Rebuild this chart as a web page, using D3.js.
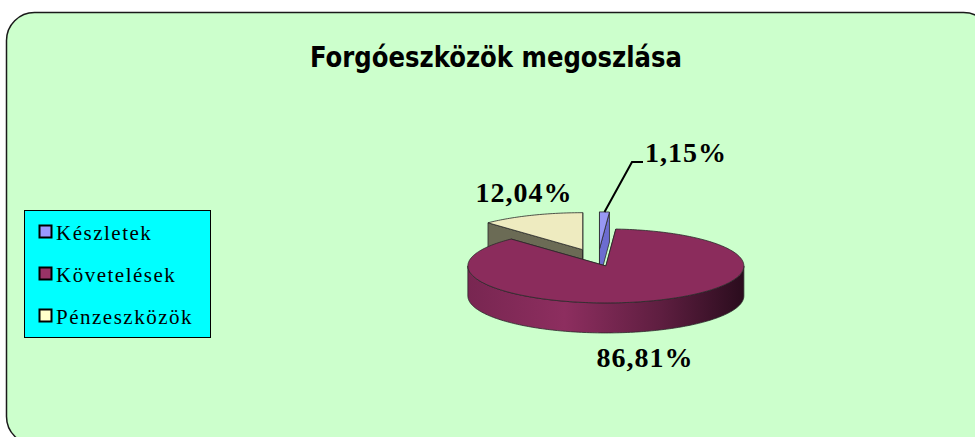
<!DOCTYPE html>
<html><head><meta charset="utf-8">
<script src="https://cdn.jsdelivr.net/npm/d3@7"></script>
<style>html,body{margin:0;padding:0;background:#fff;}svg{display:block;}</style>
</head><body>
<script>
// ---- data ----
const categories = ["Készletek", "Követelések", "Pénzeszközök"];
const values = [1.15, 86.81, 12.04];
const valueLabels = ["1,15%", "86,81%", "12,04%"];
const titleText = "Forgóeszközök megoszlása";

// ---- layout / style ----
const W = 975, H = 437;
const topColors = ["#9898f4", "#8b2c5c", "#eeebc0"];
const sideColors = ["#6c6cd0", "#8b2c5c", "#6b6b55"];
const legendColors = ["#9999ff", "#993366", "#ffffcc"];
const explode = [0.3, 0.17, 0.3];
const cx = 598, cy = 260, rx = 138, ry = 37, depth = 30;

const svg = d3.select("body").append("svg").attr("width", W).attr("height", H);

// frame
svg.append("rect").attr("x", 6.5).attr("y", 12.5).attr("width", 985).attr("height", 432)
  .attr("rx", 28).attr("ry", 28).attr("fill", "#ccffcc").attr("stroke", "#1a1a1a").attr("stroke-width", 1.5);

// title
svg.append("text").attr("x", 496).attr("y", 67).attr("text-anchor", "middle")
  .attr("font-family", "'Comic Sans MS','DejaVu Sans Condensed','DejaVu Sans',sans-serif")
  .attr("font-weight", "bold").attr("font-size", 28)
  .attr("textLength", 372).attr("lengthAdjust", "spacingAndGlyphs")
  .attr("fill", "#000").text(titleText);

// gradient for magenta outer wall
const defs = svg.append("defs");
const grad = defs.append("linearGradient").attr("id", "wallGrad")
  .attr("gradientUnits", "userSpaceOnUse").attr("x1", cx - rx + 8).attr("x2", cx + rx + 8).attr("y1", 0).attr("y2", 0);
[[0, "#782651"], [0.35, "#8d2e5f"], [0.7, "#5e1e40"], [1, "#2a0c1d"]].forEach(([o, c]) =>
  grad.append("stop").attr("offset", o).attr("stop-color", c));

const pie = d3.pie().sort(null).value(d => d).startAngle(0).endAngle(2 * Math.PI);
const arcs = pie(values);

const line = d3.line();
function pt(ox, oy, a, z) { return [ox + rx * Math.sin(a), oy - ry * Math.cos(a) + z]; }
function arcPts(ox, oy, a0, a1, z) {
  const n = Math.max(2, Math.ceil(Math.abs(a1 - a0) / 0.02));
  return d3.range(n + 1).map(i => pt(ox, oy, a0 + (a1 - a0) * i / n, z));
}

const slices = arcs.map((a, i) => {
  const mid = (a.startAngle + a.endAngle) / 2;
  const ox = cx + explode[i] * rx * Math.sin(mid);
  const oy = cy - explode[i] * ry * Math.cos(mid);
  return { a, i, ox, oy, mid };
});

// painter's order: back slices first
const order = slices.slice().sort((p, q) => p.oy - q.oy);
const g = svg.append("g");
order.forEach(s => {
  const { a, i, ox, oy } = s;
  const stroke = "#2a2a2a";
  [a.startAngle, a.endAngle].forEach(ang => {
    const e = pt(ox, oy, ang, 0), eb = pt(ox, oy, ang, depth);
    g.append("path").attr("d", line([[ox, oy], e, eb, [ox, oy + depth]]) + "Z")
      .attr("fill", sideColors[i]).attr("stroke", stroke).attr("stroke-width", 0.8);
  });
  const s0 = Math.max(a.startAngle, Math.PI / 2), s1 = Math.min(a.endAngle, 3 * Math.PI / 2);
  if (s1 > s0) {
    const top = arcPts(ox, oy, s0, s1, 0), bot = arcPts(ox, oy, s1, s0, depth);
    g.append("path").attr("d", line(top.concat(bot)) + "Z")
      .attr("fill", i === 1 ? "url(#wallGrad)" : sideColors[i]).attr("stroke", stroke).attr("stroke-width", 0.8);
  }
  const tp = [[ox, oy]].concat(arcPts(ox, oy, a.startAngle, a.endAngle, 0));
  g.append("path").attr("d", line(tp) + "Z")
    .attr("fill", topColors[i]).attr("stroke", stroke).attr("stroke-width", 0.8);
});

// value labels
const labelFont = "'Liberation Serif','Times New Roman',serif";
const labelPos = [[645, 162, "start"], [645, 367, "middle"], [524, 202, "middle"]];
valueLabels.forEach((t, i) => {
  svg.append("text").attr("x", labelPos[i][0]).attr("y", labelPos[i][1]).attr("text-anchor", labelPos[i][2])
    .attr("font-family", labelFont).attr("font-weight", "bold").attr("font-size", 28)
    .attr("letter-spacing", 1).attr("fill", "#000").text(t);
});
const sb = slices[0];
const anchor = pt(sb.ox, sb.oy, sb.mid, 0);
svg.append("path").attr("d", line([[anchor[0], anchor[1]], [632, 162], [643, 162]]))
  .attr("fill", "none").attr("stroke", "#000").attr("stroke-width", 2);

// legend
const lg = svg.append("g");
lg.append("rect").attr("x", 24.5).attr("y", 210.5).attr("width", 186).attr("height", 127)
  .attr("fill", "#00ffff").attr("stroke", "#000").attr("stroke-width", 1);
const ly = d3.scalePoint().domain(categories).range([232, 316]);
categories.forEach((c, i) => {
  lg.append("rect").attr("x", 39.5).attr("y", ly(c) - 6.5).attr("width", 12).attr("height", 12)
    .attr("fill", legendColors[i]).attr("stroke", "#000").attr("stroke-width", 2);
  lg.append("text").attr("x", 56).attr("y", ly(c) + 7.5).attr("font-family", labelFont)
    .attr("font-size", 21).attr("letter-spacing", 1.5).attr("fill", "#000").text(c);
});
</script>
</body></html>
